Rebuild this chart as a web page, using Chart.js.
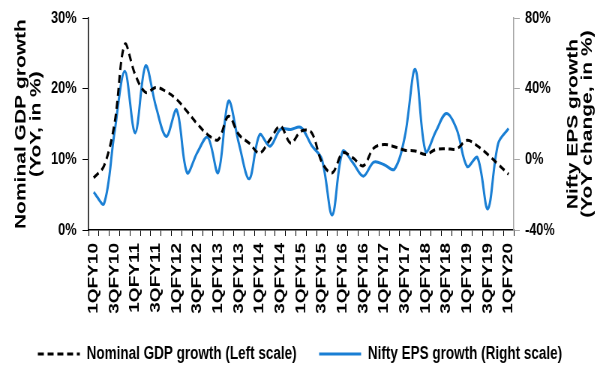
<!DOCTYPE html>
<html>
<head>
<meta charset="utf-8">
<script src="https://cdn.jsdelivr.net/npm/chart.js@4.4.1/dist/chart.umd.min.js"></script>
<style>
  html, body { margin: 0; padding: 0; background: #fff; }
  #wrap { width: 600px; height: 368px; overflow: hidden; position: relative; }
  /* the source picture is squeezed sideways, so draw wide and squeeze */
  #c { position: absolute; left: 0; top: 0; transform: scaleX(0.75); transform-origin: 0 0; }
</style>
</head>
<body>
<div id="wrap"><canvas id="c" width="800" height="368"></canvas></div>
<script>
// Nominal GDP growth vs Nifty EPS growth, quarterly 1QFY10 - 1QFY20
const quarters = [
  '1QFY10', '2QFY10', '3QFY10', '4QFY10',
  '1QFY11', '2QFY11', '3QFY11', '4QFY11',
  '1QFY12', '2QFY12', '3QFY12', '4QFY12',
  '1QFY13', '2QFY13', '3QFY13', '4QFY13',
  '1QFY14', '2QFY14', '3QFY14', '4QFY14',
  '1QFY15', '2QFY15', '3QFY15', '4QFY15',
  '1QFY16', '2QFY16', '3QFY16', '4QFY16',
  '1QFY17', '2QFY17', '3QFY17', '4QFY17',
  '1QFY18', '2QFY18', '3QFY18', '4QFY18',
  '1QFY19', '2QFY19', '3QFY19', '4QFY19',
  '1QFY20'
];
const shownTicks = [
  '1QFY10', '3QFY10', '1QFY11', '3QFY11', '1QFY12', '3QFY12', '1QFY13',
  '3QFY13', '1QFY14', '3QFY14', '1QFY15', '3QFY15', '1QFY16', '3QFY16',
  '1QFY17', '3QFY17', '1QFY18', '3QFY18', '1QFY19', '3QFY19', '1QFY20'
];
// left scale, % YoY
const gdpGrowth = [
  7.4, 9.1, 15.0, 26.3, 22.0, 19.5, 20.2, 19.6, 18.5, 16.8,
  15.0, 13.5, 12.8, 16.1, 13.5, 12.3, 10.9, 12.8, 14.7, 12.3,
  14.0, 13.8, 9.6, 8.1, 10.9, 10.2, 9.1, 11.6, 12.1, 11.8,
  11.3, 11.2, 10.7, 11.4, 11.5, 11.5, 12.7, 11.9, 10.7, 9.3,
  7.9
];
// right scale, % YoY change
const epsGrowth = [
  -18.5, -25.0, 15.0, 50.0, 15.0, 53.0, 30.0, 13.0, 28.0, -7.5,
  4.0, 12.5, -7.5, 33.0, 9.0, -11.0, 14.0, 7.5, 17.0, 17.0,
  18.0, 8.0, 0.0, -31.5, 4.5, -2.0, -9.5, -1.5, -3.0, -5.5,
  13.0, 51.0, 4.5, 16.0, 26.0, 17.0, -4.0, 1.0, -28.0, 9.0,
  17.5
];
const leftTicks = [0, 10, 20, 30];
const rightTicks = [-40, 0, 40, 80];
const leftTitle = ['Nominal GDP growth', '(YoY, in %)'];
const rightTitle = ['Nifty EPS growth', '(YoY change, in %)'];
const seriesNames = ['Nominal GDP growth (Left scale)', 'Nifty EPS growth (Right scale)'];

const FONT = "'Liberation Sans', Arial, sans-serif";
Chart.defaults.font.family = FONT;
Chart.defaults.color = '#000';

// right axis title reads bottom-to-top in the source, which the scale title can't do
const rightTitlePlugin = {
  id: 'rightTitle',
  afterDraw(chart) {
    const { ctx, chartArea } = chart;
    ctx.save();
    ctx.font = 'bold 21px ' + FONT;
    ctx.fillStyle = '#000';
    ctx.textAlign = 'center';
    ctx.textBaseline = 'middle';
    ctx.translate(chartArea.right + 79, (chartArea.top + chartArea.bottom) / 2);
    ctx.rotate(-Math.PI / 2);
    rightTitle.forEach((t, i) => ctx.fillText(t, 0, i * 19));
    ctx.restore();
  }
};

// point-style legend items lose the dataset dash, put it back
function legendLabels(chart) {
  const base = Chart.defaults.plugins.legend.labels.generateLabels(chart);
  return base.map((item, i) => {
    const ds = chart.data.datasets[i];
    return Object.assign(item, { lineDash: ds.borderDash || [], lineWidth: ds.borderWidth, strokeStyle: ds.borderColor });
  });
}

new Chart(document.getElementById('c'), {
  type: 'line',
  data: {
    labels: quarters,
    datasets: [
      {
        label: seriesNames[0], data: gdpGrowth, yAxisID: 'y',
        borderColor: '#000', backgroundColor: '#000', borderWidth: 3,
        borderDash: [8, 5], pointRadius: 0, tension: 0.35, fill: false
      },
      {
        label: seriesNames[1], data: epsGrowth, yAxisID: 'y1',
        borderColor: '#1A7FD4', backgroundColor: '#1A7FD4', borderWidth: 3,
        pointRadius: 0, tension: 0.35, fill: false
      }
    ]
  },
  options: {
    responsive: false,
    animation: false,
    devicePixelRatio: 1,
    layout: { padding: { top: 16, right: 0, bottom: 0, left: 0 } },
    plugins: {
      tooltip: { enabled: false },
      legend: {
        position: 'bottom',
        maxHeight: 53,
        labels: {
          usePointStyle: true, pointStyle: 'line', pointStyleWidth: 56,
          padding: 30, color: '#000',
          font: { size: 18, weight: 'bold' },
          generateLabels: legendLabels
        }
      }
    },
    scales: {
      x: {
        offset: true,
        grid: { offset: true, drawOnChartArea: false, drawTicks: true, tickLength: 6, color: '#000' },
        border: { color: '#000', width: 1.5 },
        ticks: {
          autoSkip: false, minRotation: 90, maxRotation: 90, padding: 7,
          color: '#000', font: { size: 19, weight: 'bold' },
          callback: (v, i) => shownTicks.includes(quarters[i]) ? quarters[i] : ''
        },
        afterFit: s => { s.height = 85; }
      },
      y: {
        position: 'left', min: 0, max: 30,
        grid: { drawOnChartArea: false, tickLength: 8, color: '#000' },
        border: { color: '#000', width: 1.5 },
        afterBuildTicks: s => { s.ticks = leftTicks.map(v => ({ value: v })); },
        ticks: { padding: 8, color: '#000', font: { size: 17, weight: 'bold' }, callback: v => v + '%' },
        title: {
          display: true, text: leftTitle, color: '#000',
          font: { size: 21, weight: 'bold', lineHeight: 0.95 },
          padding: { top: 18, bottom: 0 }
        },
        afterFit: s => { s.width = 118; }
      },
      y1: {
        position: 'right', min: -40, max: 80,
        grid: { drawOnChartArea: false, tickLength: 8, color: '#a6a6a6' },
        border: { color: '#a6a6a6', width: 1.5 },
        afterBuildTicks: s => { s.ticks = rightTicks.map(v => ({ value: v })); },
        ticks: { padding: 7, color: '#000', font: { size: 17, weight: 'bold' }, callback: v => v + '%' },
        afterFit: s => { s.width = 115; }
      }
    }
  },
  plugins: [rightTitlePlugin]
});
</script>
</body>
</html>
